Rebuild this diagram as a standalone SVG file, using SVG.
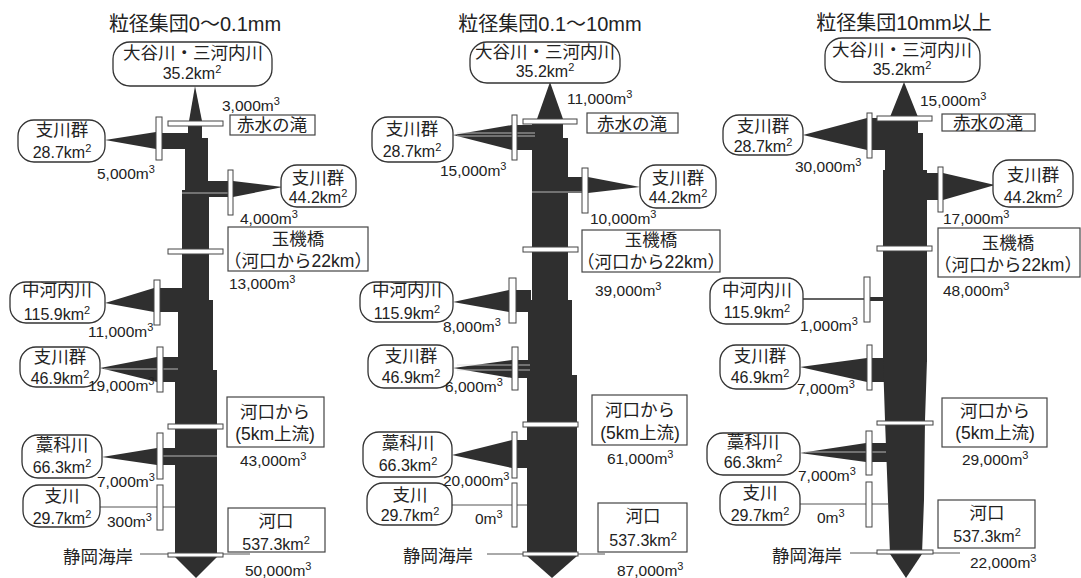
<svg xmlns="http://www.w3.org/2000/svg" width="1081" height="578" viewBox="0 0 1081 578">
<style>
.ch{fill:#2f2f2f}
.bar{fill:#fff;stroke:#444;stroke-width:1}
.node{fill:#fff;stroke:#333;stroke-width:1.3}
.box{fill:#fff;stroke:#444;stroke-width:1.2}
.ln{stroke:#555;stroke-width:1;fill:none}
.wl{stroke:#d8d8d8;stroke-width:0.8;fill:none}
text{font-family:"Liberation Sans","Noto Sans CJK JP",sans-serif;fill:#222}
.j{font-size:17.5px;text-anchor:middle}
.n{font-size:16px;text-anchor:middle}
.v{font-size:15.5px}
.title{font-size:20px;text-anchor:middle}
.s{font-size:11px}
</style>
<rect width="1081" height="578" fill="#fff"/>

<g id="connectors">
  <g id="channel1">
    <polygon class="ch" points="195,86 189,121 202,121"/>
    <rect class="ch" x="188" y="121" width="14" height="30"/>
    <polygon class="ch" points="105,140 156,132 156,149"/>
    <rect class="ch" x="156" y="133" width="32" height="16"/>
    <rect class="ch" x="185" y="138" width="23" height="54"/>
    <polygon class="ch" points="283,187 233,181 233,197"/>
    <rect class="ch" x="208" y="181" width="25" height="16"/>
    <rect class="ch" x="182" y="190" width="27" height="112"/>
    <polygon class="ch" points="105,303 154,288 154,312"/>
    <rect class="ch" x="154" y="288" width="28" height="24"/>
    <rect class="ch" x="178" y="300" width="35" height="72"/>
    <polygon class="ch" points="100,368 157,357 157,382"/>
    <rect class="ch" x="157" y="357" width="21" height="25"/>
    <rect class="ch" x="175" y="370" width="42" height="184"/>
    <polygon class="ch" points="102,457 157,448 157,465"/>
    <rect class="ch" x="157" y="448" width="18" height="17"/>
    <polygon class="ch" points="175,557 217,557 196,578"/>
    <line class="ln" x1="100" y1="507" x2="175" y2="507"/>
    <line class="wl" x1="182" y1="193" x2="230" y2="193"/>
    <line class="wl" x1="104" y1="369" x2="178" y2="369"/>
    <line class="wl" x1="160" y1="456" x2="217" y2="456"/>
    <line class="ln" x1="140" y1="554" x2="250" y2="554"/>
  </g>
  <g id="channel2">
    <polygon class="ch" points="550,82 537,119 563,119"/>
    <rect class="ch" x="532" y="119" width="31" height="25"/>
    <polygon class="ch" points="453,135 512,125 512,150"/>
    <rect class="ch" x="512" y="125" width="22" height="25"/>
    <rect class="ch" x="532" y="138" width="36" height="164"/>
    <polygon class="ch" points="640,187 588,177 588,193"/>
    <rect class="ch" x="566" y="177" width="22" height="16"/>
    <polygon class="ch" points="453,302 509,290 509,312"/>
    <rect class="ch" x="509" y="290" width="22" height="22"/>
    <rect class="ch" x="528" y="300" width="44" height="80"/>
    <polygon class="ch" points="453,368 512,360 512,378"/>
    <rect class="ch" x="512" y="360" width="17" height="18"/>
    <rect class="ch" x="527" y="375" width="50" height="178"/>
    <polygon class="ch" points="452,455 512,440 512,468"/>
    <rect class="ch" x="512" y="440" width="16" height="28"/>
    <polygon class="ch" points="527,556 577,556 552,578"/>
    <line class="ln" x1="452" y1="505" x2="527" y2="505"/>
    <line class="wl" x1="457" y1="133" x2="535" y2="133"/>
    <line class="wl" x1="457" y1="136" x2="535" y2="136"/>
    <line class="wl" x1="532" y1="192" x2="585" y2="192"/>
    <line class="wl" x1="457" y1="365" x2="530" y2="365"/>
    <line class="wl" x1="457" y1="370" x2="530" y2="370"/>
    <line class="ln" x1="487" y1="554" x2="605" y2="554"/>
  </g>
  <g id="channel3">
    <polygon class="ch" points="904,82 890,117 918,117"/>
    <rect class="ch" x="890" y="117" width="28" height="33"/>
    <polygon class="ch" points="803,135 867,118 867,150"/>
    <rect class="ch" x="867" y="118" width="23" height="32"/>
    <rect class="ch" x="885" y="133" width="38" height="42"/>
    <polygon class="ch" points="995,185 943,173 943,200"/>
    <rect class="ch" x="925" y="173" width="18" height="27"/>
    <rect class="ch" x="883" y="170" width="44" height="192"/>
    <line x1="803" y1="299" x2="885" y2="299" stroke="#2f2f2f" stroke-width="1.6"/>
    <rect class="ch" x="870" y="297" width="15" height="4"/>
    <polygon class="ch" points="800,367 867,358 867,382"/>
    <rect class="ch" x="867" y="358" width="18" height="24"/>
    <polygon class="ch" points="883,360 927,360 925,420 924,500 922,554 890,554 888,500 885,420"/>
    <polygon class="ch" points="800,453 866,443 866,462"/>
    <rect class="ch" x="866" y="443" width="21" height="19"/>
    <polygon class="ch" points="890,554 922,554 906,578"/>
    <line class="ln" x1="800" y1="504" x2="888" y2="504"/>
    <line class="wl" x1="805" y1="452" x2="886" y2="452"/>
    <line class="ln" x1="850" y1="553" x2="960" y2="553"/>
  </g>
  <g id="bars">
    <rect class="bar" x="168" y="121" width="55" height="5"/>
    <rect class="bar" x="168" y="249" width="55" height="5"/>
    <rect class="bar" x="168" y="424" width="55" height="5"/>
    <rect class="bar" x="168" y="553" width="55" height="4"/>
    <rect class="bar" x="156" y="117" width="6" height="43"/>
    <rect class="bar" x="228" y="170" width="5" height="45"/>
    <rect class="bar" x="154" y="280" width="6" height="45"/>
    <rect class="bar" x="157" y="347" width="6" height="45"/>
    <rect class="bar" x="157" y="433" width="6" height="46"/>
    <rect class="bar" x="157" y="485" width="6" height="45"/>

    <rect class="bar" x="523" y="119" width="54" height="5"/>
    <rect class="bar" x="523" y="247" width="55" height="5"/>
    <rect class="bar" x="523" y="422" width="55" height="5"/>
    <rect class="bar" x="523" y="552" width="55" height="4"/>
    <rect class="bar" x="512" y="115" width="5" height="45"/>
    <rect class="bar" x="582" y="168" width="6" height="45"/>
    <rect class="bar" x="509" y="278" width="7" height="45"/>
    <rect class="bar" x="512" y="347" width="6" height="43"/>
    <rect class="bar" x="512" y="432" width="5" height="46"/>
    <rect class="bar" x="512" y="483" width="5" height="44"/>

    <rect class="bar" x="877" y="116" width="55" height="5"/>
    <rect class="bar" x="877" y="246" width="55" height="5"/>
    <rect class="bar" x="877" y="421" width="56" height="4"/>
    <rect class="bar" x="877" y="550" width="56" height="4"/>
    <rect class="bar" x="867" y="113" width="5" height="45"/>
    <rect class="bar" x="938" y="167" width="5" height="45"/>
    <rect class="bar" x="864" y="277" width="6" height="45"/>
    <rect class="bar" x="867" y="345" width="5" height="45"/>
    <rect class="bar" x="866" y="431" width="6" height="44"/>
    <rect class="bar" x="866" y="482" width="6" height="45"/>
  </g>
</g>

<text class="title" x="195" y="31">粒径集団0～0.1mm</text>
<text class="title" x="550" y="31">粒径集団0.1～10mm</text>
<text class="title" x="904" y="30">粒径集団10mm以上</text>

<g id="p1-top"><rect class="node" x="113" y="42" width="159" height="44" rx="17"/><text class="j" x="193" y="59">大谷川・三河内川</text><text class="n" x="192" y="79">35.2km<tspan class="s" dy="-6">2</tspan></text></g>
<g id="p1-shisen1"><rect class="node" x="18" y="120" width="87" height="42" rx="16"/><text class="j" x="62" y="136">支川群</text><text class="n" x="62" y="158">28.7km<tspan class="s" dy="-6">2</tspan></text></g>
<g id="p1-shisen2"><rect class="node" x="281" y="165" width="75" height="42" rx="16"/><text class="j" x="318" y="184">支川群</text><text class="n" x="318" y="203">44.2km<tspan class="s" dy="-6">2</tspan></text></g>
<g id="p1-nakagouchi"><rect class="node" x="10" y="282" width="95" height="41" rx="16"/><text class="j" x="57" y="296">中河内川</text><text class="n" x="57" y="320">115.9km<tspan class="s" dy="-6">2</tspan></text></g>
<g id="p1-shisen3"><rect class="node" x="20" y="347" width="80" height="40" rx="16"/><text class="j" x="60" y="363">支川群</text><text class="n" x="60" y="384">46.9km<tspan class="s" dy="-6">2</tspan></text></g>
<g id="p1-warashina"><rect class="node" x="22" y="435" width="80" height="43" rx="16"/><text class="j" x="62" y="451">藁科川</text><text class="n" x="62" y="473">66.3km<tspan class="s" dy="-6">2</tspan></text></g>
<g id="p1-shisen4"><rect class="node" x="23" y="485" width="77" height="42" rx="16"/><text class="j" x="62" y="502">支川</text><text class="n" x="62" y="524">29.7km<tspan class="s" dy="-6">2</tspan></text></g>
<g id="p1-akamizu"><rect class="box" x="230" y="115" width="85" height="20"/><text class="j" x="272" y="131">赤水の滝</text></g>
<g id="p1-tamaki"><rect class="box" x="228" y="227" width="140" height="44"/><text class="j" x="298" y="245">玉機橋</text><text class="j" x="298" y="267">（河口から22km）</text></g>
<g id="p1-5km"><rect class="box" x="227" y="397" width="97" height="50"/><text class="j" x="275" y="418">河口から</text><text class="j" x="275" y="440">(5km上流)</text></g>
<g id="p1-kakou"><rect class="box" x="228" y="508" width="97" height="44"/><text class="j" x="276" y="527">河口</text><text class="n" x="276" y="550">537.3km<tspan class="s" dy="-6">2</tspan></text></g>

<g id="p2-top"><rect class="node" x="470" y="42" width="150" height="41" rx="17"/><text class="j" x="545" y="58">大谷川・三河内川</text><text class="n" x="545" y="77">35.2km<tspan class="s" dy="-6">2</tspan></text></g>
<g id="p2-shisen1"><rect class="node" x="372" y="117" width="81" height="45" rx="16"/><text class="j" x="412" y="135">支川群</text><text class="n" x="412" y="157">28.7km<tspan class="s" dy="-6">2</tspan></text></g>
<g id="p2-shisen2"><rect class="node" x="640" y="165" width="76" height="43" rx="16"/><text class="j" x="678" y="184">支川群</text><text class="n" x="678" y="203">44.2km<tspan class="s" dy="-6">2</tspan></text></g>
<g id="p2-nakagouchi"><rect class="node" x="360" y="282" width="93" height="40" rx="16"/><text class="j" x="407" y="296">中河内川</text><text class="n" x="407" y="319">115.9km<tspan class="s" dy="-6">2</tspan></text></g>
<g id="p2-shisen3"><rect class="node" x="368" y="345" width="85" height="43" rx="16"/><text class="j" x="411" y="362">支川群</text><text class="n" x="411" y="383">46.9km<tspan class="s" dy="-6">2</tspan></text></g>
<g id="p2-warashina"><rect class="node" x="363" y="432" width="89" height="45" rx="16"/><text class="j" x="408" y="449">藁科川</text><text class="n" x="408" y="471">66.3km<tspan class="s" dy="-6">2</tspan></text></g>
<g id="p2-shisen4"><rect class="node" x="367" y="483" width="85" height="42" rx="16"/><text class="j" x="410" y="501">支川</text><text class="n" x="410" y="521">29.7km<tspan class="s" dy="-6">2</tspan></text></g>
<g id="p2-akamizu"><rect class="box" x="587" y="113" width="91" height="20"/><text class="j" x="632" y="130">赤水の滝</text></g>
<g id="p2-tamaki"><rect class="box" x="582" y="230" width="138" height="42"/><text class="j" x="651" y="246">玉機橋</text><text class="j" x="651" y="268">（河口から22km）</text></g>
<g id="p2-5km"><rect class="box" x="592" y="395" width="95" height="50"/><text class="j" x="640" y="416">河口から</text><text class="j" x="640" y="439">(5km上流)</text></g>
<g id="p2-kakou"><rect class="box" x="598" y="503" width="89" height="49"/><text class="j" x="643" y="522">河口</text><text class="n" x="643" y="546">537.3km<tspan class="s" dy="-6">2</tspan></text></g>

<g id="p3-top"><rect class="node" x="825" y="38" width="155" height="44" rx="17"/><text class="j" x="902" y="56">大谷川・三河内川</text><text class="n" x="902" y="75">35.2km<tspan class="s" dy="-6">2</tspan></text></g>
<g id="p3-shisen1"><rect class="node" x="723" y="115" width="80" height="40" rx="16"/><text class="j" x="763" y="132">支川群</text><text class="n" x="763" y="152">28.7km<tspan class="s" dy="-6">2</tspan></text></g>
<g id="p3-shisen2"><rect class="node" x="993" y="160" width="80" height="47" rx="16"/><text class="j" x="1033" y="181">支川群</text><text class="n" x="1033" y="203">44.2km<tspan class="s" dy="-6">2</tspan></text></g>
<g id="p3-nakagouchi"><rect class="node" x="710" y="278" width="93" height="46" rx="16"/><text class="j" x="757" y="296">中河内川</text><text class="n" x="757" y="318">115.9km<tspan class="s" dy="-6">2</tspan></text></g>
<g id="p3-shisen3"><rect class="node" x="720" y="345" width="80" height="44" rx="16"/><text class="j" x="760" y="362">支川群</text><text class="n" x="760" y="383">46.9km<tspan class="s" dy="-6">2</tspan></text></g>
<g id="p3-warashina"><rect class="node" x="707" y="433" width="93" height="42" rx="16"/><text class="j" x="753" y="448">藁科川</text><text class="n" x="753" y="468">66.3km<tspan class="s" dy="-6">2</tspan></text></g>
<g id="p3-shisen4"><rect class="node" x="720" y="482" width="80" height="43" rx="16"/><text class="j" x="760" y="499">支川</text><text class="n" x="760" y="521">29.7km<tspan class="s" dy="-6">2</tspan></text></g>
<g id="p3-akamizu"><rect class="box" x="942" y="114" width="93" height="17"/><text class="j" x="988" y="129">赤水の滝</text></g>
<g id="p3-tamaki"><rect class="box" x="938" y="228" width="142" height="49"/><text class="j" x="1008" y="249">玉機橋</text><text class="j" x="1008" y="271">（河口から22km）</text></g>
<g id="p3-5km"><rect class="box" x="942" y="398" width="105" height="49"/><text class="j" x="995" y="417">河口から</text><text class="j" x="995" y="439">(5km上流)</text></g>
<g id="p3-kakou"><rect class="box" x="938" y="500" width="97" height="48"/><text class="j" x="987" y="519">河口</text><text class="n" x="987" y="542">537.3km<tspan class="s" dy="-6">2</tspan></text></g>

<text class="j" x="98" y="563">静岡海岸</text>
<text class="j" x="438" y="562">静岡海岸</text>
<text class="j" x="807" y="562">静岡海岸</text>

<g id="volumes">
  <text class="v" x="222" y="111">3,000m<tspan class="s" dy="-6">3</tspan></text>
  <text class="v" x="97" y="179">5,000m<tspan class="s" dy="-6">3</tspan></text>
  <text class="v" x="240" y="224">4,000m<tspan class="s" dy="-6">3</tspan></text>
  <text class="v" x="229" y="289">13,000m<tspan class="s" dy="-6">3</tspan></text>
  <text class="v" x="88" y="337">11,000m<tspan class="s" dy="-6">3</tspan></text>
  <text class="v" x="88" y="391">19,000m<tspan class="s" dy="-6">3</tspan></text>
  <text class="v" x="240" y="466">43,000m<tspan class="s" dy="-6">3</tspan></text>
  <text class="v" x="97" y="487">7,000m<tspan class="s" dy="-6">3</tspan></text>
  <text class="v" x="107" y="527">300m<tspan class="s" dy="-6">3</tspan></text>
  <text class="v" x="245" y="576">50,000m<tspan class="s" dy="-6">3</tspan></text>

  <text class="v" x="567" y="104">11,000m<tspan class="s" dy="-6">3</tspan></text>
  <text class="v" x="440" y="176">15,000m<tspan class="s" dy="-6">3</tspan></text>
  <text class="v" x="590" y="224">10,000m<tspan class="s" dy="-6">3</tspan></text>
  <text class="v" x="595" y="296">39,000m<tspan class="s" dy="-6">3</tspan></text>
  <text class="v" x="443" y="332">8,000m<tspan class="s" dy="-6">3</tspan></text>
  <text class="v" x="445" y="392">6,000m<tspan class="s" dy="-6">3</tspan></text>
  <text class="v" x="607" y="464">61,000m<tspan class="s" dy="-6">3</tspan></text>
  <text class="v" x="443" y="486">20,000m<tspan class="s" dy="-6">3</tspan></text>
  <text class="v" x="475" y="524">0m<tspan class="s" dy="-6">3</tspan></text>
  <text class="v" x="617" y="576">87,000m<tspan class="s" dy="-6">3</tspan></text>

  <text class="v" x="920" y="106">15,000m<tspan class="s" dy="-6">3</tspan></text>
  <text class="v" x="795" y="172">30,000m<tspan class="s" dy="-6">3</tspan></text>
  <text class="v" x="943" y="224">17,000m<tspan class="s" dy="-6">3</tspan></text>
  <text class="v" x="943" y="296">48,000m<tspan class="s" dy="-6">3</tspan></text>
  <text class="v" x="800" y="331">1,000m<tspan class="s" dy="-6">3</tspan></text>
  <text class="v" x="797" y="394">7,000m<tspan class="s" dy="-6">3</tspan></text>
  <text class="v" x="962" y="465">29,000m<tspan class="s" dy="-6">3</tspan></text>
  <text class="v" x="798" y="481">7,000m<tspan class="s" dy="-6">3</tspan></text>
  <text class="v" x="817" y="523">0m<tspan class="s" dy="-6">3</tspan></text>
  <text class="v" x="970" y="568">22,000m<tspan class="s" dy="-6">3</tspan></text>
</g>
</svg>
